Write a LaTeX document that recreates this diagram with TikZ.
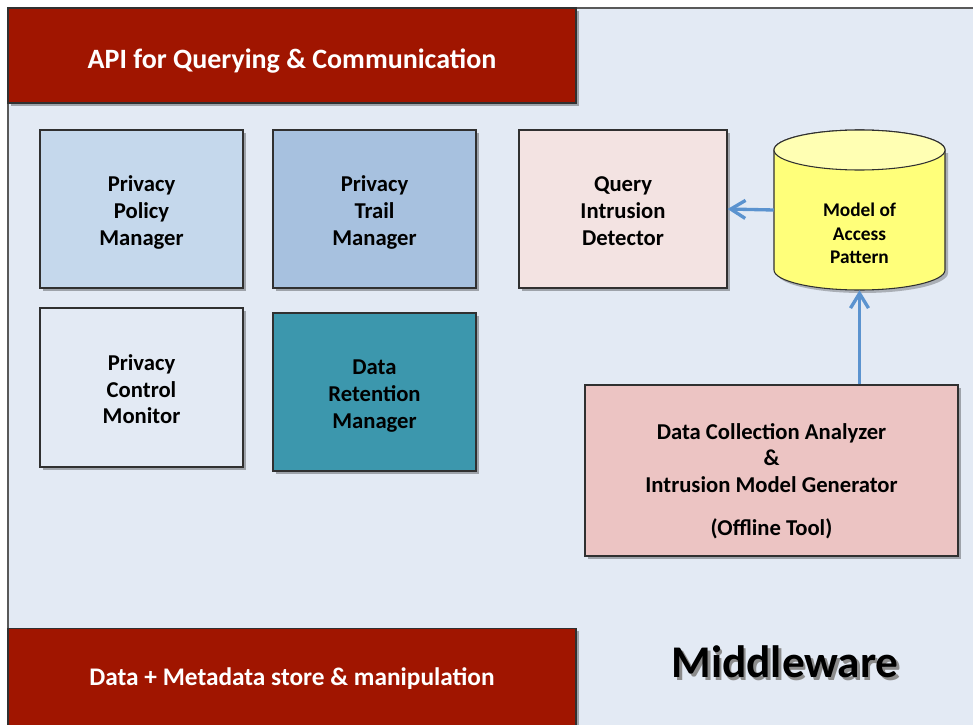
\documentclass[tikz,border=0pt]{standalone}
\usepackage{fontspec}
\setmainfont{Carlito}
\usetikzlibrary{shadows,arrows.meta}

\definecolor{panelbg}{HTML}{E3EAF4}
\definecolor{apired}{HTML}{A01500}
\definecolor{policyblue}{HTML}{C5D8EC}
\definecolor{trailblue}{HTML}{A7C1DF}
\definecolor{querypink}{HTML}{F3E3E2}
\definecolor{retteal}{HTML}{3C97AD}
\definecolor{analyzerpink}{HTML}{ECC4C3}
\definecolor{cylbody}{HTML}{FFFF7A}
\definecolor{cyltop}{HTML}{FFFFB3}
\definecolor{flowblue}{HTML}{5B93CF}
\definecolor{edgegray}{HTML}{303030}

% centred lines of text, lowered by #1 without changing the reported box size
\newcommand{\lowerlines}[2]{\raisebox{-#1}[\height][\depth]{\begin{tabular}{@{}c@{}}#2\end{tabular}}}

\tikzset{
  softshadow/.style={drop shadow={shadow xshift=2.2pt, shadow yshift=-2.2pt, opacity=0.3, fill=black}},
  compbox/.style={draw=edgegray, line width=0.8pt, rectangle, inner sep=0pt,
    font=\bfseries\fontsize{17}{20}\selectfont, text=black, softshadow},
  layerbox/.style={draw=edgegray, line width=0.8pt, rectangle, fill=apired, inner sep=0pt,
    text=white, softshadow},
  flow/.style={draw=flowblue, line width=2.5pt, -{Straight Barb[length=11pt,width=13.5pt,line width=2.5pt]}},
}

\begin{document}
\begin{tikzpicture}[x=0.75pt,y=-0.75pt]
\useasboundingbox (0,0) rectangle (973,724);
\clip (0,0) rectangle (973,724);
\fill[white] (0,0) rectangle (973,724);

% middleware panel
\draw[fill=panelbg, draw=edgegray!80, line width=0.8pt] (8,8) rectangle (1000,760);

% interface and storage layers
\node[layerbox, minimum width=426pt, minimum height=71.25pt, font=\bfseries\fontsize{21}{24}\selectfont] (api) at (292,55.5)
  {\lowerlines{5pt}{API for Querying \& Communication}};
\node[layerbox, minimum width=426pt, minimum height=76pt, font=\bfseries\fontsize{19}{22}\selectfont] (store) at (292,679)
  {\lowerlines{0.6pt}{Data + Metadata store \& manipulation}};

% privacy components
\node[compbox, fill=policyblue, minimum width=152.25pt, minimum height=118.5pt] (policy) at (141.5,209)
  {\lowerlines{3.2pt}{Privacy\\Policy\\Manager}};
\node[compbox, fill=trailblue, minimum width=152.25pt, minimum height=118.5pt] (trail) at (374.5,209)
  {\lowerlines{3.2pt}{Privacy\\Trail\\Manager}};
\node[compbox, fill=panelbg, minimum width=152.25pt, minimum height=119.25pt] (monitor) at (141.5,387.5)
  {\lowerlines{3.2pt}{Privacy\\Control\\Monitor}};
\node[compbox, fill=retteal, minimum width=152.25pt, minimum height=118.5pt] (retention) at (374.5,392)
  {\lowerlines{3.2pt}{Data\\Retention\\Manager}};

% intrusion detection
\node[compbox, fill=querypink, minimum width=156pt, minimum height=118.5pt] (query) at (623,209)
  {\lowerlines{3pt}{Query\\Intrusion\\Detector}};
\node[compbox, fill=analyzerpink, minimum width=279.75pt, minimum height=128.25pt] (analyzer) at (771.5,470.5)
  {\lowerlines{8.7pt}{Data Collection Analyzer\\\&\\Intrusion Model Generator\\[12.5pt](Offline Tool)}};

% access pattern store (cylinder)
\fill[black, opacity=0.25] (777,153) -- (777,273) arc[start angle=180, end angle=360, x radius=85.5*0.75pt, y radius=20*0.75pt] -- (948,153) -- cycle;
\filldraw[fill=cylbody, draw=edgegray, line width=0.8pt]
  (774,150) -- (774,270) arc[start angle=180, end angle=360, x radius=85.5*0.75pt, y radius=20*0.75pt]
  -- (945,150) arc[start angle=0, end angle=180, x radius=85.5*0.75pt, y radius=20*0.75pt] -- cycle;
\filldraw[fill=cyltop, draw=edgegray, line width=0.8pt] (859.5,150) ellipse[x radius=85.5*0.75pt, y radius=20*0.75pt];
\node[rectangle, minimum width=128.25pt, minimum height=120pt] (model) at (859.5,210) {};
\node[align=center, font=\bfseries\fontsize{14.5}{17.5}\selectfont] (modellabel) at (859.5,233.5)
  {Model of\\Access\\Pattern};

% data flow
\draw[flow] (model.west) -- (query.east);
\draw[flow] (analyzer.north -| model.south) -- (model.south);

% layer title with its shadow
\node[font=\bfseries\fontsize{34}{36}\selectfont, text=black] (title) at (785,663)
  {\makebox[0pt][l]{\raisebox{-2pt}{\hspace{2pt}\textcolor{black!45}{Middleware}}}Middleware};
\end{tikzpicture}
\end{document}
